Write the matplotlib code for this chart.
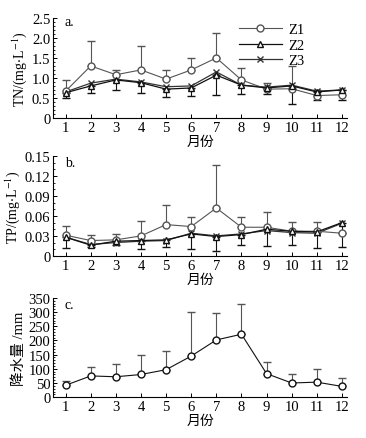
import numpy as np
import matplotlib
matplotlib.use("Agg")
import matplotlib.pyplot as plt
from matplotlib.ticker import MultipleLocator

plt.rcParams['font.family'] = ['Liberation Serif', 'Noto Sans CJK SC']
plt.rcParams['mathtext.fontset'] = 'stix'

months = np.arange(1, 13)

## TN (mg/L)
tn_z1 = [0.67, 1.30, 1.08, 1.20, 0.97, 1.20, 1.50, 0.95, 0.72, 0.73, 0.56, 0.58]
tn_z1_up = [0.95, 1.93, 1.20, 1.80, 1.20, 1.50, 2.12, 1.25, 0.88, 1.30, 0.70, 0.70]
tn_z2 = [0.63, 0.80, 0.95, 0.88, 0.72, 0.75, 1.07, 0.82, 0.75, 0.80, 0.65, 0.70]
tn_z3 = [0.65, 0.87, 0.97, 0.90, 0.78, 0.80, 1.15, 0.82, 0.77, 0.82, 0.67, 0.70]
tn_low = [0.50, 0.62, 0.70, 0.62, 0.52, 0.55, 0.57, 0.60, 0.60, 0.35, 0.45, 0.45]
tn_ticks = [0, 0.5, 1.0, 1.5, 2.0, 2.5]
tn_labels = ['0', '0.5', '1.0', '1.5', '2.0', '2.5']

## TP (mg/L)
tp_z1 = [0.031, 0.023, 0.024, 0.030, 0.047, 0.044, 0.072, 0.043, 0.043, 0.037, 0.037, 0.034]
tp_z1_up = [0.045, 0.032, 0.033, 0.052, 0.077, 0.058, 0.136, 0.059, 0.066, 0.051, 0.051, 0.034]
tp_z2 = [0.028, 0.016, 0.022, 0.023, 0.024, 0.033, 0.029, 0.032, 0.040, 0.037, 0.036, 0.050]
tp_z3 = [0.028, 0.017, 0.020, 0.022, 0.023, 0.034, 0.030, 0.033, 0.038, 0.035, 0.034, 0.049]
tp_low = [0.012, 0.014, 0.017, 0.010, 0.014, 0.010, 0.008, 0.017, 0.015, 0.016, 0.012, 0.013]
tp_ticks = [0, 0.03, 0.06, 0.09, 0.12, 0.15]
tp_labels = ['0', '0.03', '0.06', '0.09', '0.12', '0.15']

## Rainfall (mm)
rain = [42, 75, 72, 80, 97, 145, 202, 222, 83, 50, 53, 38]
rain_up = [58, 107, 117, 148, 163, 300, 298, 330, 125, 82, 100, 68]
rain_ticks = [0, 50, 100, 150, 200, 250, 300, 350]

fig = plt.figure(figsize=(3.66, 4.39), dpi=100)
ax1 = fig.add_axes([0.145, 0.729, 0.803, 0.228])
ax2 = fig.add_axes([0.145, 0.415, 0.803, 0.227])
ax3 = fig.add_axes([0.145, 0.093, 0.803, 0.226])

def style(ax, ticks, labels, minor):
    ax.spines['top'].set_visible(False)
    ax.spines['right'].set_visible(False)
    for s in ['left', 'bottom']:
        ax.spines[s].set_linewidth(0.8)
    ax.set_xlim(0.5, 12.2)
    ax.set_ylim(ticks[0], ticks[-1])
    ax.set_xticks(months)
    ax.set_yticks(ticks)
    ax.set_yticklabels(labels)
    ax.yaxis.set_minor_locator(MultipleLocator(minor))
    ax.tick_params(direction='in', length=3, width=0.7, labelsize=10.5, pad=2)
    ax.tick_params(which='minor', direction='in', length=1.5, width=0.6)
    ax.set_xlabel('月份', fontsize=10, labelpad=1)

c1 = '#555555'
c2 = '#111111'
c3 = '#333333'

# panel a
z1_err = [np.zeros(12), np.array(tn_z1_up) - np.array(tn_z1)]
low_err = [np.array(tn_z2) - np.array(tn_low), np.zeros(12)]
h1 = ax1.errorbar(months, tn_z1, yerr=z1_err, color=c1, ecolor=c1, elinewidth=0.8, capsize=3,
                  lw=0.8, marker='o', mfc='white', mec=c1, ms=5, label='Z1')
h2 = ax1.errorbar(months, tn_z2, yerr=low_err, color=c2, ecolor=c2, elinewidth=0.8, capsize=3,
                  lw=0.9, marker='^', mfc='white', mec=c2, ms=4.5, label='Z2')
h3, = ax1.plot(months, tn_z3, color=c3, lw=0.9, marker='x', ms=5, label='Z3')
style(ax1, tn_ticks, tn_labels, 0.1)
ax1.set_ylabel(r'TN/(mg$\cdot$L$^{-1}$)', fontsize=10, labelpad=2)
ax1.text(0.04, 0.93, 'a.', transform=ax1.transAxes, fontsize=10)
ax1.legend([h1.lines[0], h2.lines[0], h3], ['Z1', 'Z2', 'Z3'], loc='upper right',
           bbox_to_anchor=(0.88, 1.02), frameon=False, fontsize=10.5, borderpad=0,
           handlelength=3, labelspacing=0.15, handletextpad=0.4)

# panel b
z1_err = [np.zeros(12), np.array(tp_z1_up) - np.array(tp_z1)]
low_err = [np.array(tp_z2) - np.array(tp_low), np.zeros(12)]
ax2.errorbar(months, tp_z1, yerr=z1_err, color=c1, ecolor=c1, elinewidth=0.8, capsize=3,
             lw=0.8, marker='o', mfc='white', mec=c1, ms=5)
ax2.errorbar(months, tp_z2, yerr=low_err, color=c2, ecolor=c2, elinewidth=0.8, capsize=3,
             lw=0.9, marker='^', mfc='white', mec=c2, ms=4.5)
ax2.plot(months, tp_z3, color=c3, lw=0.9, marker='x', ms=5)
style(ax2, tp_ticks, tp_labels, 0.01)
ax2.set_ylabel(r'TP/(mg$\cdot$L$^{-1}$)', fontsize=10, labelpad=2)
ax2.text(0.04, 0.9, 'b.', transform=ax2.transAxes, fontsize=10)

# panel c
r_err = [np.zeros(12), np.array(rain_up) - np.array(rain)]
ax3.errorbar(months, rain, yerr=r_err, color=c2, ecolor=c1, elinewidth=0.8, capsize=3,
             lw=0.8, marker='o', mfc='white', mec=c2, ms=5)
style(ax3, rain_ticks, [str(t) for t in rain_ticks], 10)
ax3.set_ylabel('降水量 /mm', fontsize=10.5, labelpad=2)
ax3.text(0.04, 0.9, 'c.', transform=ax3.transAxes, fontsize=10)

plt.savefig('out.png', dpi=100)
